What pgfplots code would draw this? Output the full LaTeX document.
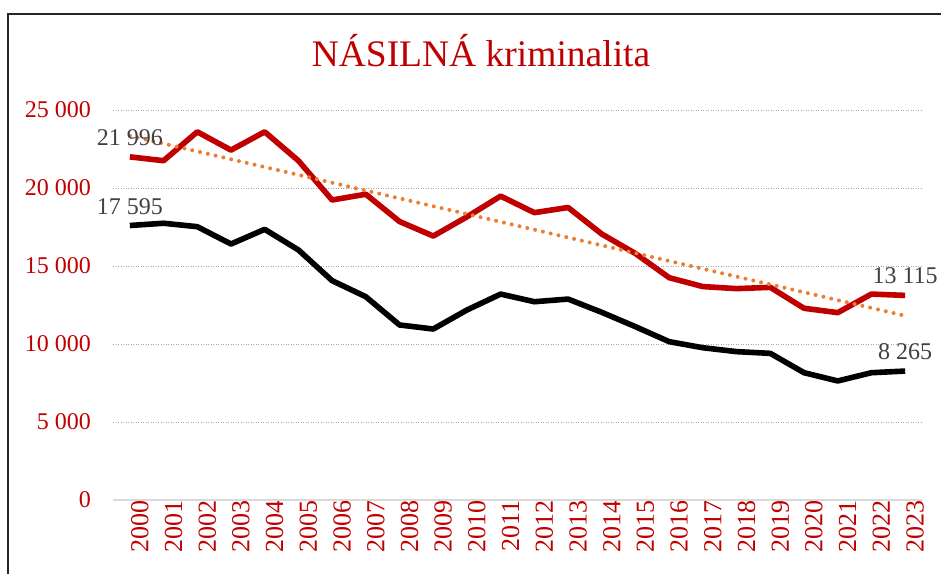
\documentclass[border=0pt]{standalone}
\usepackage{pgfplots}
\pgfplotsset{compat=1.18}
\usepackage{fontspec}
\setmainfont{Liberation Serif}
\definecolor{cred}{HTML}{C00000}
\definecolor{corange}{HTML}{ED7D31}
\definecolor{cgray}{HTML}{404040}
\definecolor{cgrid}{HTML}{A6A6A6}
\definecolor{caxis}{HTML}{D9D9D9}
\begin{document}
\begin{tikzpicture}[x=1pt,y=1pt]
\useasboundingbox (0,0) rectangle (941,573);
\draw[line width=2pt, black!85] (941,559) -- (8,559) -- (8,-2);
\node[anchor=base, text=cred, font=\fontsize{37.5}{37.5}\selectfont] at (481,506) {NÁSILNÁ kriminalita};
\begin{axis}[
  at={(113pt,73pt)}, anchor=south west,
  scale only axis, width=809pt, height=390pt,
  xmin=1999.5, xmax=2023.5, ymin=0, ymax=25000,
  axis line style={draw=none},
  major tick length=0pt,
  scaled y ticks=false,
  xtick={2000,...,2023},
  ytick={5000,10000,...,25000},
  extra y ticks={0}, extra y tick labels={0},
  extra y tick style={grid style={solid, draw=caxis, line width=2pt}},
  ymajorgrids,
  grid style={draw=cgrid, line width=0.9pt, dash pattern=on 1pt off 1.5pt},
  /pgf/number format/assume math mode=true,
  /pgf/number format/1000 sep={\ },
  ticklabel style={text=cred, font=\fontsize{24}{24}\selectfont},
  xticklabel={\pgfmathprintnumber[1000 sep={}]{\tick}},
  xticklabel style={rotate=90, anchor=east, inner sep=0pt, yshift=-10pt, font=\fontsize{26}{26}\selectfont},
  yticklabel style={anchor=east, inner sep=0pt, xshift=-22pt},
  clip=false,
]
\addplot[black, line width=5.6pt, line join=round, mark=none] coordinates {
(2000,17595) (2001,17740) (2002,17520) (2003,16410) (2004,17350) (2005,16030)
(2006,14060) (2007,13030) (2008,11220) (2009,10960) (2010,12180) (2011,13200)
(2012,12710) (2013,12880) (2014,12030) (2015,11110) (2016,10150) (2017,9760)
(2018,9510) (2019,9400) (2020,8160) (2021,7630) (2022,8160) (2023,8265)};
\addplot[cred, line width=5.6pt, line join=round, mark=none] coordinates {
(2000,21996) (2001,21750) (2002,23600) (2003,22430) (2004,23600) (2005,21750)
(2006,19230) (2007,19600) (2008,17850) (2009,16920) (2010,18150) (2011,19480)
(2012,18420) (2013,18750) (2014,17050) (2015,15800) (2016,14250) (2017,13680)
(2018,13550) (2019,13630) (2020,12290) (2021,12010) (2022,13200) (2023,13115)};
\addplot[corange, line width=4pt, line cap=round, dash pattern=on 0pt off 8pt, mark=none] coordinates {
(2000,23350) (2023,11810)};
\addplot[draw=none, mark=none, nodes near coords, point meta=explicit symbolic,
  every node near coord/.style={anchor=south, inner sep=0pt, yshift=11pt, text=cgray, font=\fontsize{24}{24}\selectfont}]
  coordinates {(2000,21996)[21 996] (2023,13115)[13 115] (2000,17595)[17 595] (2023,8265)[8 265]};
\end{axis}
\end{tikzpicture}
\end{document}
